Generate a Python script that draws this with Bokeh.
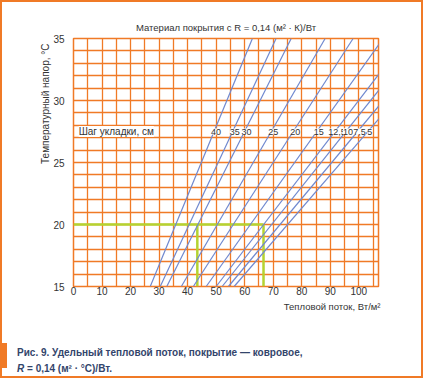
from bokeh.plotting import figure
from bokeh.layouts import column
from bokeh.models import (FixedTicker, SingleIntervalTicker, Title, LabelSet, Div,
                          ColumnDataSource, InlineStyleSheet)
from bokeh.core.properties import value
from bokeh.embed import file_html
from bokeh.resources import INLINE

# ---- data ----
spacing_labels = ["40", "35", "30", "25", "20", "15", "12,5", "10", "7,5", "5"]
q_at_15 = [26.9, 30.4, 32.7, 37.8, 42.0, 46.5, 50.0, 52.1, 54.3, 56.3]      # W/m2 at dT = 15
q_at_35 = [62.7, 71.0, 76.3, 88.2, 98.0, 108.5, 116.6, 121.5, 126.7, 131.3]  # W/m2 at dT = 35
dt_ends = [15, 35]
label_dt = 27.5

example_dt = 20
example_q = [43.4, 66.6]

x_ticks = [0, 10, 20, 30, 40, 50, 60, 70, 80, 90, 100]
y_ticks = [15, 20, 25, 30, 35]

ORANGE = "#f07a26"
BLUE = "#6f88cf"
GREEN = "#b5d331"
TXT = "#333333"
CAP = "#33456b"
FONT = "Liberation Sans"

p = figure(width=423, height=320, x_range=(0, 106.9), y_range=(15, 35),
           output_backend="svg", toolbar_location=None,
           min_border_left=73, min_border_right=45, min_border_top=38,
           min_border_bottom=34, background_fill_color="white",
           border_fill_color="white", margin=(0, 0, 0, 0))

p.outline_line_color = ORANGE
p.outline_line_width = 1.5

p.xaxis.ticker = FixedTicker(ticks=x_ticks)
p.yaxis.ticker = FixedTicker(ticks=y_ticks)
p.xgrid.ticker = SingleIntervalTicker(interval=5)
p.ygrid.ticker = SingleIntervalTicker(interval=1)
for g in (p.xgrid, p.ygrid):
    g.grid_line_color = ORANGE
    g.grid_line_width = 1.3
    g.grid_line_alpha = 1.0
for ax in (p.xaxis, p.yaxis):
    ax.axis_line_color = None
    ax.major_tick_line_color = None
    ax.minor_tick_line_color = None
    ax.major_tick_out = 0
    ax.major_tick_in = 0
    ax.minor_tick_out = 0
    ax.minor_tick_in = 0
    ax.major_label_text_font = FONT
    ax.major_label_text_font_size = "10px"
    ax.major_label_text_color = TXT
p.xaxis.major_label_standoff = 0
p.yaxis.major_label_standoff = 9

# title
p.title.text = "Материал покрытия с R = 0,14 (м² · К)/Вт"
p.title.align = "center"
p.title.offset = -23
p.title.text_font = FONT
p.title.text_font_size = "9.5px"
p.title.text_font_style = "normal"
p.title.text_color = TXT
p.title.standoff = 12

# axis titles
p.add_layout(Title(text="Температурный напор, °С", align="right", offset=5,
                   text_font=FONT, text_font_size="10px", text_font_style="normal",
                   text_color=TXT, standoff=0), "left")
p.add_layout(Title(text="Тепловой поток, Вт/м²", align="right", offset=-2,
                   text_font=FONT, text_font_size="9.5px", text_font_style="normal",
                   text_color=TXT, standoff=2), "below")

# green example lines
p.line([0, example_q[1]], [example_dt, example_dt], line_color=GREEN, line_width=2.5)
for q in example_q:
    p.line([q, q], [15, example_dt], line_color=GREEN, line_width=2.5)

# blue lines
xs = [[a, b] for a, b in zip(q_at_15, q_at_35)]
ys = [dt_ends for _ in q_at_15]
p.multi_line(xs, ys, line_color=BLUE, line_width=1.2)

# spacing labels
lx = [a + (b - a) * (label_dt - dt_ends[0]) / (dt_ends[1] - dt_ends[0])
      for a, b in zip(q_at_15, q_at_35)]
src = ColumnDataSource(dict(x=lx, y=[label_dt] * len(lx), t=spacing_labels))
p.add_layout(LabelSet(x="x", y="y", text="t", source=src, text_align="center",
                      text_baseline="middle", x_offset=2, text_font=value(FONT),
                      text_font_size=value("9px"), text_color=TXT,
                      background_fill_color="white"))
src2 = ColumnDataSource(dict(x=[1.8], y=[label_dt], t=["Шаг укладки, см"]))
p.add_layout(LabelSet(x="x", y="y", text="t", source=src2, text_align="left",
                      text_baseline="middle", text_font=value(FONT),
                      text_font_size=value("10px"), text_color=TXT,
                      background_fill_color="white"))

# caption
caption = Div(
    text=("<div style=\"padding:25px 0 0 17px; font-family:'Liberation Sans';"
          " font-weight:bold; font-size:10px; line-height:16px; color:%s;"
          " white-space:nowrap;\">"
          "Рис. 9. Удельный тепловой поток, покрытие — ковровое,<br>"
          "<i>R</i> = 0,14 (м² · °С)/Вт.</div>") % CAP,
    width=423, height=58, margin=(0, 0, 0, 0))

layout = column(p, caption, spacing=0, margin=(0, 0, 0, 0))

# page border and side bar (decoration)
layout.stylesheets = [InlineStyleSheet(css="""
:host { position: relative; background: white; }
:host::after { content: ''; position: absolute; left: 0; top: 0; width: 423px; height: 378px;
  border: 2px solid #f07a26; pointer-events: none; z-index: 10; box-sizing: border-box; }
:host::before { content: ''; position: absolute; left: 0; top: 343px; width: 7px; height: 25px;
  background: #f07a26; pointer-events: none; z-index: 10; }
""")]

open("out.html", "w").write(file_html(layout, INLINE))
